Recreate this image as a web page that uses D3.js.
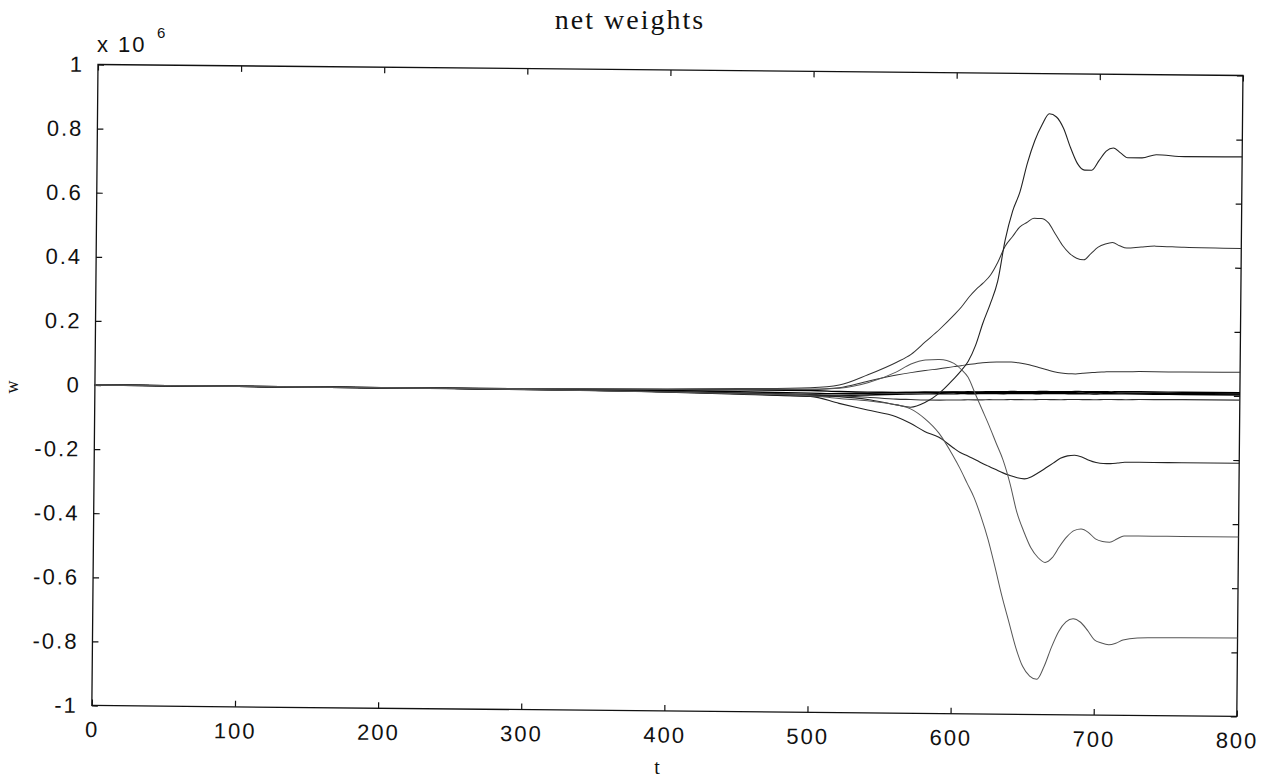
<!DOCTYPE html>
<html>
<head>
<meta charset="utf-8">
<script src="https://cdn.jsdelivr.net/npm/d3@7"></script>
<style>
  html, body { margin: 0; padding: 0; background: #fff; }
  svg { display: block; }
  .tick text { font-family: "Liberation Sans", Arial, sans-serif; font-size: 22px; letter-spacing: 2px; fill: #111; }
</style>
</head>
<body>
<svg id="chart" width="1279" height="780"></svg>
<script>
// ---- data (values in units of 1e6) ----
const times = [0, 200, 300, 400, 450, 500, 520, 540, 560, 570, 580, 590, 600, 605, 610, 615, 620, 625, 630, 635, 640,
               645, 650, 655, 660, 665, 670, 675, 680, 685, 690, 695, 700, 705, 710, 715, 720, 730, 740, 760, 800];

const wA = [0, 0, -0.001, -0.004, -0.007, -0.011, -0.014, -0.022, -0.038, -0.045, -0.03, 0.0, 0.045, 0.07, 0.10,
            0.15, 0.22, 0.28, 0.35, 0.48, 0.57, 0.63, 0.72, 0.79, 0.84, 0.875, 0.865, 0.83, 0.77, 0.72,
            0.70, 0.70, 0.73, 0.76, 0.77, 0.755, 0.74, 0.74, 0.75, 0.745, 0.746];
const wB = [0, 0, 0.002, 0.005, 0.008, 0.013, 0.022, 0.055, 0.095, 0.12, 0.16, 0.20, 0.245, 0.27, 0.30,
            0.325, 0.345, 0.37, 0.41, 0.46, 0.49, 0.52, 0.535, 0.548, 0.548, 0.535, 0.50, 0.465, 0.44, 0.425,
            0.42, 0.44, 0.46, 0.47, 0.475, 0.465, 0.458, 0.462, 0.465, 0.462, 0.46];
const wC = [0, 0, 0.001, 0.003, 0.005, 0.008, 0.014, 0.035, 0.055, 0.063, 0.07, 0.076, 0.083, 0.086, 0.09,
            0.093, 0.096, 0.098, 0.099, 0.099, 0.099, 0.097, 0.093, 0.088, 0.082, 0.076, 0.07, 0.066, 0.064, 0.064,
            0.066, 0.068, 0.07, 0.071, 0.072, 0.072, 0.072, 0.073, 0.073, 0.073, 0.074];
const wD1 = [0, 0, 0.001, 0.0, -0.002, -0.004, -0.005, -0.003, 0.0, 0.001, 0.002, 0.003, 0.004, 0.004, 0.005,
             0.005, 0.005, 0.006, 0.006, 0.006, 0.007, 0.007, 0.007, 0.007, 0.008, 0.008, 0.008, 0.008, 0.008, 0.009,
             0.009, 0.009, 0.009, 0.009, 0.009, 0.01, 0.01, 0.01, 0.01, 0.01, 0.01];
const wD2 = [0, 0, -0.001, 0.002, 0.004, 0.004, 0.002, 0.001, 0.001, 0.001, 0.002, 0.002, 0.003, 0.003, 0.003,
             0.003, 0.004, 0.004, 0.004, 0.004, 0.004, 0.005, 0.005, 0.005, 0.005, 0.005, 0.005, 0.005, 0.005, 0.005,
             0.005, 0.006, 0.006, 0.006, 0.006, 0.006, 0.006, 0.006, 0.006, 0.006, 0.006];
const wD3 = [0, 0, 0.0, -0.005, -0.009, -0.013, -0.011, -0.008, -0.005, -0.004, -0.003, -0.002, -0.002, -0.001, -0.001,
             -0.001, 0.0, 0.0, 0.0, 0.0, 0.001, 0.001, 0.001, 0.001, 0.001, 0.002, 0.002, 0.002, 0.002, 0.002,
             0.002, 0.002, 0.002, 0.003, 0.003, 0.003, 0.003, 0.003, 0.003, 0.003, 0.003];
const wE = [0, 0, -0.001, -0.003, -0.005, -0.008, -0.011, -0.015, -0.02, -0.021, -0.022, -0.022, -0.021, -0.021, -0.02,
            -0.02, -0.02, -0.019, -0.019, -0.019, -0.018, -0.018, -0.018, -0.018, -0.017, -0.017, -0.017, -0.017, -0.016, -0.016,
            -0.016, -0.016, -0.016, -0.015, -0.015, -0.015, -0.015, -0.014, -0.014, -0.013, -0.013];
const wF = [0, 0, 0.0, -0.004, -0.008, -0.014, -0.035, -0.055, -0.075, -0.095, -0.12, -0.138, -0.17, -0.185, -0.195,
            -0.205, -0.217, -0.227, -0.237, -0.247, -0.255, -0.262, -0.265, -0.258, -0.245, -0.23, -0.215, -0.2, -0.192, -0.19,
            -0.195, -0.205, -0.212, -0.215, -0.215, -0.213, -0.21, -0.21, -0.21, -0.21, -0.21];
const wG = [0, 0, 0.001, 0.004, 0.007, 0.008, 0.012, 0.03, 0.065, 0.09, 0.103, 0.105, 0.093, 0.075, 0.05,
            0.0, -0.05, -0.10, -0.154, -0.207, -0.28, -0.37, -0.43, -0.48, -0.51, -0.525, -0.51, -0.475, -0.445, -0.425,
            -0.42, -0.43, -0.45, -0.458, -0.46, -0.45, -0.44, -0.44, -0.44, -0.44, -0.44];
const wH = [0, 0, -0.001, -0.005, -0.008, -0.012, -0.02, -0.026, -0.038, -0.05, -0.08, -0.125, -0.195, -0.235, -0.28,
            -0.325, -0.385, -0.455, -0.54, -0.63, -0.71, -0.79, -0.85, -0.88, -0.89, -0.85, -0.79, -0.74, -0.71, -0.70,
            -0.71, -0.735, -0.765, -0.775, -0.78, -0.775, -0.765, -0.758, -0.757, -0.756, -0.755];

const xTicks = [0, 100, 200, 300, 400, 500, 600, 700, 800];
const xTickLabels = ["0", "100", "200", "300", "400", "500", "600", "700", "800"];
const yTicks = [1, 0.8, 0.6, 0.4, 0.2, 0, -0.2, -0.4, -0.6, -0.8, -1];
const yTickLabels = ["1", "0.8", "0.6", "0.4", "0.2", "0", "-0.2", "-0.4", "-0.6", "-0.8", "-1"];

const titleText = "net weights";
const xLabel = "t";
const yLabel = "w";

// ---- layout ----
const ox = 98, oy = 64.5, W = 1145, H = 641;
const svg = d3.select("#chart");

const x = d3.scaleLinear().domain([0, 800]).range([0, W]);
const y = d3.scaleLinear().domain([-1, 1]).range([H, 0]);

svg.append("text")
  .attr("x", 630).attr("y", 29)
  .attr("text-anchor", "middle")
  .style("font-family", "'Liberation Serif', 'Times New Roman', serif")
  .style("font-size", "28px").style("letter-spacing", "2px")
  .attr("fill", "#111")
  .text(titleText);

const g = svg.append("g")
  .attr("transform", `translate(${ox},${oy}) rotate(0.55)`);

// frame
g.append("rect").attr("x", 0).attr("y", 0).attr("width", W).attr("height", H)
  .attr("fill", "none").attr("stroke", "#111").attr("stroke-width", 1.3);

// axes with inward ticks
const fmtX = (d) => xTickLabels[xTicks.indexOf(d)];
const fmtY = (d) => yTickLabels[yTicks.indexOf(d)];

const axB = g.append("g").attr("transform", `translate(0,${H})`)
  .call(d3.axisBottom(x).tickValues(xTicks).tickFormat(fmtX).tickSize(-6).tickPadding(16));
const axT = g.append("g")
  .call(d3.axisTop(x).tickValues(xTicks).tickFormat("").tickSize(-6));
const axL = g.append("g")
  .call(d3.axisLeft(y).tickValues(yTicks).tickFormat(fmtY).tickSize(-6).tickPadding(14));
const axR = g.append("g").attr("transform", `translate(${W},0)`)
  .call(d3.axisRight(y).tickValues(yTicks).tickFormat("").tickSize(-6));
[axB, axT, axL, axR].forEach(a => {
  a.select(".domain").remove();
  a.selectAll(".tick line").attr("stroke", "#111").attr("stroke-width", 1.2);
});

// exponent label
svg.append("text").attr("x", 97).attr("y", 52)
  .style("font-family", "'Liberation Sans', Arial, sans-serif").style("font-size", "22px")
  .style("letter-spacing", "2px").attr("fill", "#111").text("x 10");
svg.append("text").attr("x", 157).attr("y", 38)
  .style("font-family", "'Liberation Sans', Arial, sans-serif").style("font-size", "15px")
  .attr("fill", "#111").text("6");

// axis labels
svg.append("text").attr("transform", "translate(18,387) rotate(-90)")
  .attr("text-anchor", "middle")
  .style("font-family", "'Liberation Serif', serif").style("font-size", "18px")
  .attr("fill", "#111").text(yLabel);
svg.append("text").attr("x", 657).attr("y", 774)
  .attr("text-anchor", "middle")
  .style("font-family", "'Liberation Serif', serif").style("font-size", "20px")
  .attr("fill", "#111").text(xLabel);

// series
const series = [
  { vals: wD1, color: "#000", w: 1.4 },
  { vals: wD2, color: "#000", w: 1.4 },
  { vals: wD3, color: "#000", w: 1.4 },
  { vals: wE,  color: "#333", w: 1.1 },
  { vals: wC,  color: "#333", w: 1.0 },
  { vals: wB,  color: "#333", w: 1.0 },
  { vals: wA,  color: "#222", w: 1.1 },
  { vals: wF,  color: "#222", w: 1.1 },
  { vals: wG,  color: "#555", w: 1.0 },
  { vals: wH,  color: "#555", w: 1.0 }
];

const line = d3.line()
  .x((d, i) => x(times[i]))
  .y(d => y(d))
  .curve(d3.curveMonotoneX);

g.append("g").selectAll("path").data(series).join("path")
  .attr("d", s => line(s.vals))
  .attr("fill", "none")
  .attr("stroke", s => s.color)
  .attr("stroke-width", s => s.w);
</script>
</body>
</html>
